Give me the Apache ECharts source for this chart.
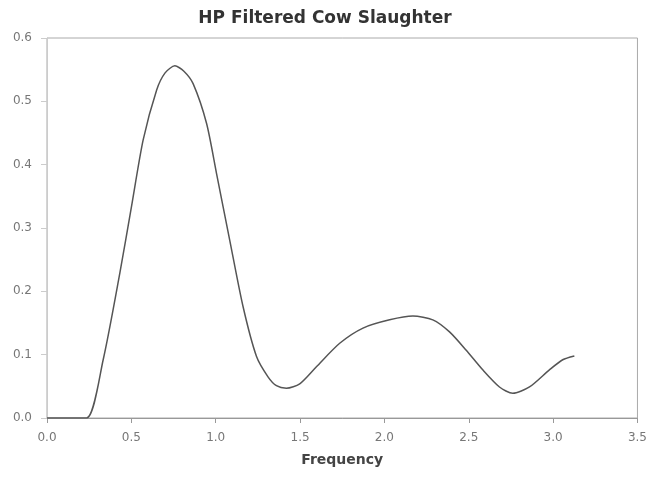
<!DOCTYPE html>
<html>
<head>
<meta charset="utf-8">
<script src="https://cdn.jsdelivr.net/npm/echarts@6/dist/echarts.min.js"></script>
<style>
  html, body { margin: 0; padding: 0; background: #fff; }
  #chart { width: 650px; height: 478px; }
</style>
</head>
<body>
<div id="chart"></div>
<script>
// values
var freq = [0, 0.1, 0.235, 0.333, 0.432, 0.501, 0.57, 0.65, 0.7, 0.758, 0.81, 0.866,
  0.946, 1.005, 1.083, 1.162, 1.242, 1.31, 1.36, 1.419, 1.498, 1.597, 1.735, 1.873,
  2.031, 2.169, 2.287, 2.386, 2.485, 2.583, 2.682, 2.761, 2.86, 2.978, 3.057, 3.126];
var spectrum = [0, 0, 0, 0.092, 0.229, 0.334, 0.439, 0.518, 0.545, 0.556, 0.548, 0.528,
  0.465, 0.386, 0.281, 0.176, 0.097, 0.065, 0.051, 0.047, 0.054, 0.081, 0.118, 0.142,
  0.155, 0.161, 0.155, 0.136, 0.107, 0.076, 0.049, 0.039, 0.049, 0.076, 0.092, 0.098];

var chartTitle = "HP Filtered Cow Slaughter";
var xName = "Frequency";

var points = freq.map(function (f, i) {
  return [f, spectrum[i]];
});

var myChart = echarts.init(document.getElementById("chart"), null, { renderer: "canvas" });

var option = {
  animation: false,
  backgroundColor: "#fff",
  title: {
    text: chartTitle,
    left: "center",
    top: 5,
    textStyle: {
      fontFamily: "DejaVu Sans",
      fontWeight: "bold",
      fontSize: 17,
      color: "#333"
    }
  },
  grid: {
    left: 47,
    right: 12,
    top: 38,
    bottom: 60,
    show: true,
    borderColor: "#aaa",
    borderWidth: 1
  },
  xAxis: {
    type: "value",
    min: 0,
    max: 3.5,
    interval: 0.5,
    name: xName,
    nameLocation: "middle",
    nameGap: 35,
    nameTextStyle: {
      fontFamily: "DejaVu Sans",
      fontWeight: "bold",
      fontSize: 14,
      color: "#444"
    },
    axisLine: { show: true, lineStyle: { color: "#999" } },
    axisTick: { show: true, length: 5, lineStyle: { color: "#999" } },
    splitLine: { show: false },
    axisLabel: {
      margin: 14,
      fontFamily: "DejaVu Sans",
      fontSize: 12,
      color: "#777",
      formatter: function (v) { return v.toFixed(1); }
    }
  },
  yAxis: {
    type: "value",
    min: 0,
    max: 0.6,
    interval: 0.1,
    axisLine: { show: true, lineStyle: { color: "#ccc" } },
    axisTick: { show: true, length: 6, lineStyle: { color: "#ccc" } },
    splitLine: { show: false },
    axisLabel: {
      margin: 15,
      fontFamily: "DejaVu Sans",
      fontSize: 12,
      color: "#777",
      formatter: function (v) { return v.toFixed(1); }
    }
  },
  series: [
    {
      type: "line",
      data: points,
      showSymbol: false,
      smooth: 0.25,
      clip: true,
      lineStyle: { color: "#555", width: 1.5 }
    }
  ]
};

myChart.setOption(option);
window.addEventListener("resize", myChart.resize);
</script>
</body>
</html>
